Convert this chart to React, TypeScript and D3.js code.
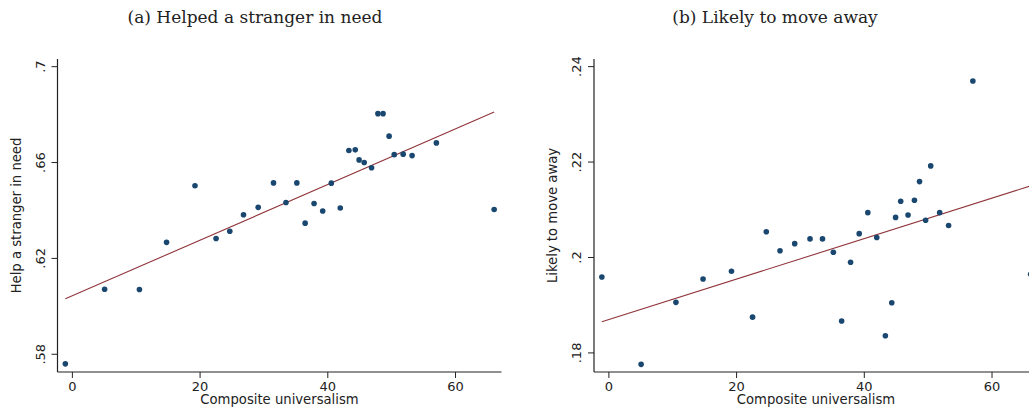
import React from "react";
import * as d3 from "d3";

const universalism = [-1.1, 5.05, 10.5, 14.75, 19.2, 22.5, 24.65, 26.8, 29.1, 31.5, 33.45, 35.15, 36.45, 37.85, 39.2, 40.55, 41.95, 43.3, 44.3, 44.9, 45.7, 46.85, 47.85, 48.65, 49.6, 50.4, 51.8, 53.2, 57.0, 66.05];
const helpStranger = [0.576, 0.6071, 0.607, 0.6267, 0.6503, 0.6283, 0.6313, 0.6382, 0.6413, 0.6515, 0.6433, 0.6515, 0.6347, 0.6429, 0.6398, 0.6514, 0.641, 0.665, 0.6653, 0.6611, 0.66, 0.6578, 0.6804, 0.6804, 0.671, 0.6633, 0.6635, 0.6629, 0.6682, 0.6404];
const moveAway = [0.1959, 0.1776, 0.1906, 0.1955, 0.1971, 0.1875, 0.2054, 0.2014, 0.2029, 0.2039, 0.2039, 0.2011, 0.1867, 0.199, 0.205, 0.2094, 0.2042, 0.1836, 0.1905, 0.2084, 0.2118, 0.2089, 0.212, 0.2159, 0.2078, 0.2192, 0.2094, 0.2067, 0.237, 0.1965];
const fitA = [0.6044, 0.001161]; // intercept, slope
const fitB = [0.187, 0.000424];
const xTicks = [0, 20, 40, 60];
const yTicksA = [0.58, 0.62, 0.66, 0.7];
const yTicksB = [0.18, 0.2, 0.22, 0.24];
const yLabelsA = [".58", ".62", ".66", ".7"];
const yLabelsB = [".18", ".2", ".22", ".24"];

const NAVY = "#1a476f";
const MAROON = "#90353b";
const SANS = "'DejaVu Sans', sans-serif";

type PanelProps = {
  left: number;
  title: string;
  titleX: number;
  yTitle: string;
  ys: number[];
  fit: number[];
  yTicks: number[];
  yLabels: string[];
  yDomain: [number, number];
};

function Panel({ left, title, titleX, yTitle, ys, fit, yTicks, yLabels, yDomain }: PanelProps) {
  const top = 59;
  const bottom = 372;
  const width = 444;
  const x = d3.scaleLinear().domain([-2.33, 67.2]).range([left, left + width]);
  const y = d3.scaleLinear().domain(yDomain).range([bottom, top]);
  const xMin = d3.min(universalism) as number;
  const xMax = d3.max(universalism) as number;
  const line = d3
    .line<number>()
    .x((d) => x(d))
    .y((d) => y(fit[0] + fit[1] * d));
  return (
    <g>
      <text x={titleX} y={23} textAnchor="middle" fontFamily="'DejaVu Serif', serif" fontSize={17} fill="#222">
        {title}
      </text>
      <line x1={left} x2={left} y1={top} y2={bottom} stroke="#222" strokeWidth={1.2} />
      <line x1={left} x2={left + width} y1={bottom} y2={bottom} stroke="#222" strokeWidth={1.2} />
      {yTicks.map((t, i) => (
        <g key={"y" + i}>
          <line x1={left - 6} x2={left} y1={y(t)} y2={y(t)} stroke="#222" strokeWidth={1} />
          <text
            transform={`translate(${left - 13},${y(t)}) rotate(-90)`}
            textAnchor="middle"
            fontFamily={SANS}
            fontSize={13}
            fill="#222"
          >
            {yLabels[i]}
          </text>
        </g>
      ))}
      {xTicks.map((t, i) => (
        <g key={"x" + i}>
          <line x1={x(t)} x2={x(t)} y1={bottom} y2={bottom + 6} stroke="#222" strokeWidth={1} />
          <text x={x(t)} y={bottom + 19} textAnchor="middle" fontFamily={SANS} fontSize={13} fill="#222">
            {t}
          </text>
        </g>
      ))}
      <text x={left + width / 2} y={bottom + 32} textAnchor="middle" fontFamily={SANS} fontSize={13.2} fill="#222">
        Composite universalism
      </text>
      <text
        transform={`translate(${left - 37},${(top + bottom) / 2}) rotate(-90)`}
        textAnchor="middle"
        fontFamily={SANS}
        fontSize={13.2}
        fill="#222"
      >
        {yTitle}
      </text>
      <path d={line([xMin, xMax]) || ""} fill="none" stroke={MAROON} strokeWidth={1.1} />
      {universalism.map((u, i) => (
        <circle key={i} cx={x(u)} cy={y(ys[i])} r={2.8} fill={NAVY} />
      ))}
    </g>
  );
}

export default function App() {
  return (
    <svg width={1029} height={410} style={{ position: "absolute", left: 0, top: 0, background: "#fff" }}>
      <rect width={1029} height={410} fill="#fff" />
      <Panel
        left={57.5}
        title="(a) Helped a stranger in need"
        titleX={255}
        yTitle="Help a stranger in need"
        ys={helpStranger}
        fit={fitA}
        yTicks={yTicksA}
        yLabels={yLabelsA}
        yDomain={[0.5726, 0.7032]}
      />
      <Panel
        left={594}
        title="(b) Likely to move away"
        titleX={775}
        yTitle="Likely to move away"
        ys={moveAway}
        fit={fitB}
        yTicks={yTicksB}
        yLabels={yLabelsB}
        yDomain={[0.176, 0.2416]}
      />
    </svg>
  );
}
